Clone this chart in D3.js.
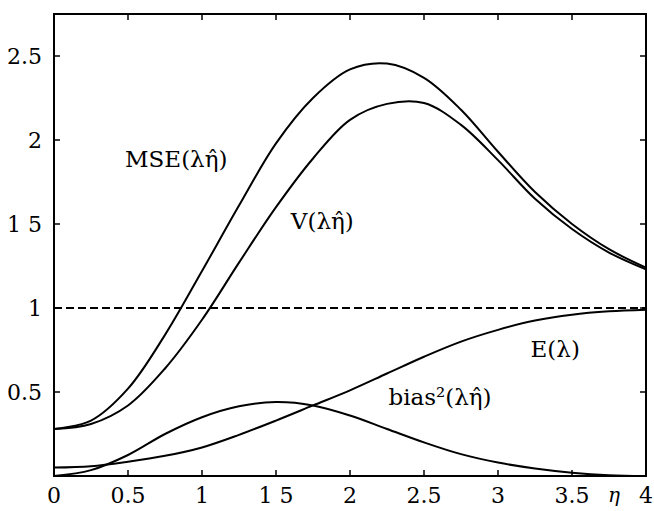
<!DOCTYPE html>
<html>
<head>
<meta charset="utf-8">
<script src="https://cdn.jsdelivr.net/npm/d3@7"></script>
<style>
  html, body { margin: 0; padding: 0; background: #fff; }
  .curve { fill: none; stroke: #000; stroke-width: 2; }
</style>
</head>
<body>
<svg id="chart" width="654" height="511"></svg>
<script>
const eta = [0, 0.25, 0.5, 0.75, 1, 1.25, 1.5, 1.75, 2, 2.25, 2.5, 2.75, 3, 3.25, 3.5, 3.75, 4];

const mse  = [0.28, 0.33, 0.52, 0.84, 1.22, 1.61, 1.98, 2.25, 2.42, 2.455, 2.37, 2.18, 1.93, 1.69, 1.50, 1.35, 1.24];
const vari = [0.28, 0.31, 0.42, 0.64, 0.93, 1.27, 1.60, 1.89, 2.12, 2.215, 2.22, 2.09, 1.88, 1.65, 1.47, 1.33, 1.23];
const bias = [0.0, 0.035, 0.125, 0.25, 0.35, 0.415, 0.44, 0.42, 0.36, 0.28, 0.2, 0.13, 0.08, 0.045, 0.02, 0.005, 0.0];
const expl = [0.05, 0.058, 0.085, 0.12, 0.17, 0.245, 0.33, 0.42, 0.51, 0.61, 0.71, 0.80, 0.87, 0.925, 0.96, 0.98, 0.99];

const xTicks = [0, 0.5, 1, 1.5, 2, 2.5, 3, 3.5, 4];
const xTickLabels = ["0", "0.5", "1", "1 5", "2", "2.5", "3", "3.5", "4"];
const yTicks = [0.5, 1, 1.5, 2, 2.5];
const yTickLabels = ["0.5", "1", "1 5", "2", "2.5"];

const curveLabels = [
  { text: "MSE(\u03BB\u03B7\u0302)", x: 0.48, y: 1.84 },
  { text: "V(\u03BB\u03B7\u0302)", x: 1.6, y: 1.47 },
  { text: "E(\u03BB)", x: 3.22, y: 0.71 },
  { text: "bias\u00B2(\u03BB\u03B7\u0302)", x: 2.26, y: 0.42 }
];

const FONT = '"DejaVu Serif", serif';

function whenDocumentLoaded(action) {
  if (document.readyState === "loading") {
    document.addEventListener("DOMContentLoaded", action);
  } else {
    action();
  }
}

whenDocumentLoaded(() => {
  const svg = d3.select("#chart");
  const left = 54, right = 646, top = 14, bottom = 476;

  const x = d3.scaleLinear().domain([0, 4]).range([left, right]);
  const y = d3.scaleLinear().domain([0, 2.75]).range([bottom, top]);

  // frame
  svg.append("rect")
     .attr("x", left).attr("y", top)
     .attr("width", right - left).attr("height", bottom - top)
     .attr("fill", "none").attr("stroke", "#000").attr("stroke-width", 2);

  // inward ticks on all four sides
  const tickLen = 6;
  const ticks = svg.append("g").attr("stroke", "#000").attr("stroke-width", 1.5);
  xTicks.slice(1, -1).forEach(t => {
    ticks.append("line").attr("x1", x(t)).attr("x2", x(t)).attr("y1", bottom).attr("y2", bottom - tickLen);
    ticks.append("line").attr("x1", x(t)).attr("x2", x(t)).attr("y1", top).attr("y2", top + tickLen);
  });
  yTicks.forEach(t => {
    ticks.append("line").attr("x1", left).attr("x2", left + tickLen).attr("y1", y(t)).attr("y2", y(t));
    ticks.append("line").attr("x1", right).attr("x2", right - tickLen).attr("y1", y(t)).attr("y2", y(t));
  });

  // tick labels
  svg.append("g").selectAll("text")
     .data(xTicks)
     .enter()
     .append("text")
     .attr("x", d => x(d))
     .attr("y", 503)
     .attr("text-anchor", "middle")
     .style("font-family", FONT)
     .style("font-size", "22px")
     .text((d, i) => xTickLabels[i]);

  svg.append("g").selectAll("text")
     .data(yTicks)
     .enter()
     .append("text")
     .attr("x", 42)
     .attr("y", d => y(d) + 8)
     .attr("text-anchor", "end")
     .style("font-family", FONT)
     .style("font-size", "22px")
     .text((d, i) => yTickLabels[i]);

  // axis name
  svg.append("text")
     .attr("x", 614).attr("y", 502)
     .attr("text-anchor", "middle")
     .style("font-family", FONT)
     .style("font-size", "20px")
     .style("font-style", "italic")
     .text("\u03B7");

  // dashed reference line at 1
  svg.append("line")
     .attr("x1", left).attr("x2", right)
     .attr("y1", y(1)).attr("y2", y(1))
     .attr("stroke", "#000").attr("stroke-width", 2)
     .attr("stroke-dasharray", "8,4");

  const line = d3.line()
                 .x(d => x(d[0]))
                 .y(d => y(d[1]))
                 .curve(d3.curveCatmullRom);

  [mse, vari, bias, expl].forEach(series => {
    svg.append("path")
       .classed("curve", true)
       .attr("d", line(eta.map((e, i) => [e, series[i]])));
  });

  svg.append("g").selectAll("text")
     .data(curveLabels)
     .enter()
     .append("text")
     .attr("x", d => x(d.x))
     .attr("y", d => y(d.y))
     .style("font-family", FONT)
     .style("font-size", "23px")
     .text(d => d.text);
});
</script>
</body>
</html>
